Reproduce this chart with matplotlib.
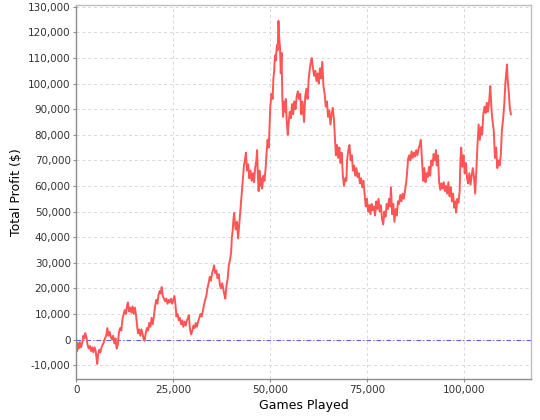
"""
Total profit over games played (JFreeChart-style line chart)
"""
import matplotlib
matplotlib.use('Agg')
import matplotlib.pyplot as plt
from matplotlib.ticker import FuncFormatter, MultipleLocator

plt.rcParams.update({
    'font.family': 'DejaVu Sans',
    'font.size': 8,
})

# games played (thousands) and total profit ($ thousands)
games_k = [
    0, 0.2, 0.4, 0.6, 0.9, 1.2, 1.5, 1.8, 2.1, 2.3, 2.6, 2.9, 3.2, 3.5, 3.8, 4.1, 4.4, 4.7, 5.0, 5.2,
    5.4, 5.6, 5.9, 6.2, 6.5, 6.8, 7.1, 7.4, 7.7, 8.0, 8.3, 8.6, 8.9, 9.2, 9.5, 9.8, 10.1, 10.4, 10.7, 11.0,
    11.3, 11.6, 11.9, 12.2, 12.5, 12.8, 13.1, 13.3, 13.6, 13.9, 14.2, 14.5, 14.8, 15.1, 15.4, 15.7, 15.9, 16.2, 16.5, 16.8,
    17.1, 17.4, 17.6, 17.9, 18.2, 18.5, 18.8, 19.1, 19.4, 19.7, 20.0, 20.3, 20.6, 20.9, 21.2, 21.5, 21.8, 22.0, 22.3, 22.6,
    22.9, 23.2, 23.5, 23.8, 24.1, 24.4, 24.7, 25.0, 25.3, 25.6, 25.8, 26.1, 26.4, 26.7, 27.0, 27.3, 27.6, 27.9, 28.2, 28.5,
    28.8, 29.0, 29.3, 29.6, 29.9, 30.2, 30.5, 30.8, 31.1, 31.4, 31.7, 32.0, 32.3, 32.6, 32.9, 33.2, 33.5, 33.8, 34.1, 34.4,
    34.7, 35.0, 35.3, 35.5, 35.8, 36.1, 36.4, 36.7, 37.0, 37.3, 37.6, 37.9, 38.1, 38.4, 38.7, 39.0, 39.3, 39.6, 39.9, 40.1,
    40.3, 40.5, 40.7, 40.9, 41.1, 41.4, 41.7, 42.0, 42.3, 42.6, 42.9, 43.2, 43.5, 43.7, 44.0, 44.3, 44.6, 44.9, 45.2, 45.5,
    45.8, 46.1, 46.4, 46.6, 46.8, 47.0, 47.2, 47.5, 47.7, 47.9, 48.2, 48.5, 48.8, 49.0, 49.3, 49.6, 49.8, 50.0, 50.3, 50.6,
    50.8, 51.0, 51.2, 51.4, 51.7, 51.9, 52.1, 52.3, 52.5, 52.7, 52.9, 53.1, 53.3, 53.5, 53.8, 54.0, 54.2, 54.5, 54.7, 55.0,
    55.3, 55.6, 55.9, 56.2, 56.5, 56.8, 57.1, 57.4, 57.7, 58.0, 58.3, 58.7, 59.0, 59.3, 59.6, 59.9, 60.2, 60.5, 60.7, 61.0,
    61.3, 61.6, 61.9, 62.2, 62.5, 62.8, 63.1, 63.4, 63.7, 64.0, 64.3, 64.6, 64.9, 65.2, 65.5, 65.8, 66.1, 66.4, 66.7, 66.9,
    67.2, 67.5, 67.8, 68.1, 68.4, 68.7, 69.0, 69.3, 69.6, 69.8, 70.1, 70.4, 70.7, 71.0, 71.3, 71.6, 71.9, 72.2, 72.5, 72.8,
    73.1, 73.4, 73.7, 74.0, 74.3, 74.6, 74.9, 75.2, 75.5, 75.8, 76.1, 76.4, 76.7, 77.0, 77.3, 77.6, 77.9, 78.2, 78.5, 78.8,
    79.1, 79.4, 79.7, 80.0, 80.3, 80.6, 80.9, 81.1, 81.4, 81.7, 82.0, 82.3, 82.6, 82.9, 83.2, 83.5, 83.8, 84.1, 84.4, 84.7,
    85.0, 85.3, 85.5, 85.8, 86.1, 86.4, 86.7, 87.0, 87.3, 87.6, 87.9, 88.2, 88.5, 88.8, 89.1, 89.4, 89.7, 90.0, 90.3, 90.6,
    90.9, 91.2, 91.5, 91.8, 92.1, 92.4, 92.7, 92.9, 93.2, 93.5, 93.8, 94.1, 94.4, 94.7, 95.0, 95.3, 95.6, 95.9, 96.2, 96.5,
    96.8, 97.1, 97.4, 97.7, 97.9, 98.2, 98.5, 98.8, 99.0, 99.2, 99.5, 99.8, 100.1, 100.4, 100.7, 101.0, 101.3, 101.6, 101.9, 102.2,
    102.5, 102.8, 103.1, 103.4, 103.7, 104.0, 104.3, 104.6, 104.9, 105.2, 105.5, 105.8, 106.1, 106.4, 106.7, 107.0, 107.3, 107.6, 107.9, 108.2,
    108.5, 108.8, 109.1, 109.4, 109.7, 110.0, 110.3, 110.6, 110.8, 111.0, 111.2, 111.5, 111.7, 112.0,
]
profit_k = [
    0, -4.5, -1.5, -3.5, -1, -3, -1.5, 1.5, 0.5, 2.5, 1, -2, -3.5, -2.5, -4.5, -3, -5, -3, -4.5, -7,
    -9.5, -6, -4, -5, -3, -2, -1, 0.5, 1.5, 4.5, 1.5, 3, 1, 0, 1.5, -1.5, 0.5, -3.5, -2, 3,
    4.5, 3.5, 8, 10, 11.5, 10, 13.5, 14.5, 11, 12.5, 10.5, 13, 10, 12.5, 9.5, 5, 2.5, 4, 1.5, 4,
    2, 0, -0.5, 2.5, 4.5, 3.5, 6.5, 5, 8.5, 6, 9, 13, 15.5, 14, 17.5, 19, 18, 20.5, 17, 16,
    15, 16, 14, 15.5, 14.5, 16, 14, 15.5, 17, 13, 9, 10, 7.5, 8.5, 6, 7.5, 5, 7, 5.5, 7.5,
    8.5, 9.5, 4, 2, 3.5, 5.5, 4.5, 6.5, 5, 7, 8.5, 10, 9, 11, 13.5, 15.5, 17, 20, 22, 24.5,
    23, 26, 27.5, 29, 26, 27, 24, 25.5, 21.5, 20, 22, 19.5, 18, 16, 21, 23.5, 29, 31, 34, 40,
    42.5, 47, 49.5, 45, 43, 46, 39.5, 45, 50, 56, 62, 68, 70.5, 73, 66, 68.5, 63, 66, 62, 65,
    61.5, 67, 70, 74, 64, 58, 66, 60, 63, 59, 64, 62, 67, 72, 78, 75, 83, 91, 96, 94,
    102, 105, 111, 109, 115, 113, 124.5, 118, 114, 104, 112, 95, 87, 93, 89, 94, 86, 80, 84, 89,
    86.5, 92, 88, 93, 90, 95, 97, 94, 96, 88, 93, 85, 95, 98, 94, 102, 106, 109, 110, 106,
    103, 105, 101, 104, 100, 106, 102, 108.5, 99, 96, 91, 93, 87, 89.5, 84, 88, 90.5, 86, 78, 72,
    76, 71, 75, 69, 73, 64, 60, 63, 62, 70, 74, 76, 70, 72, 66, 68, 64, 67, 63.5, 65,
    61, 63, 59.5, 62, 57, 52, 55, 50, 52.5, 49, 53, 50.5, 52, 48.5, 54, 51, 55, 50, 52.5, 47,
    45, 50, 48, 53, 51, 55, 52, 59.5, 49, 53, 46, 51, 48.5, 54, 53, 56.5, 54, 57, 55, 58,
    61, 66, 70.5, 72, 70, 73.5, 71, 73, 71.5, 74, 72, 74.5, 76, 78, 70, 62, 67, 61.5, 65, 63.5,
    67.5, 64, 70, 68, 72.5, 70, 74, 68, 72, 62, 58.5, 61, 59, 61.5, 58, 60, 57, 61.5, 56, 59.5,
    54, 57, 51.5, 54, 49.7, 55, 53.5, 58, 70, 75, 67.5, 72, 65, 69, 63, 61, 65, 60.5, 64, 67,
    63.5, 57, 66, 76, 84, 78, 83, 80, 88, 91, 88.5, 92.5, 89, 93, 99, 90, 85, 81.5, 71, 75,
    67, 70, 68, 72, 82, 86, 92, 100.5, 104, 107.5, 101, 96, 91, 88,
]

games = [g * 1000 for g in games_k]
profit = [p * 1000 for p in profit_k]

RED = '#FF5555'
BLUE = '#5B5BFF'
GRID = '#D8D8D8'
EDGE = '#8C8C8C'

fig = plt.figure(figsize=(5.4, 4.2), dpi=100)
ax = fig.add_axes([0.1413, 0.0976, 0.8426, 0.8905])

ax.axhline(0, color=BLUE, lw=0.8, ls=(0, (4, 2, 1, 2)), zorder=1)
ax.plot(games, profit, color=RED, lw=1.4, zorder=2)

ax.set_xlim(0, 117270)
ax.set_ylim(-15400, 130700)
ax.xaxis.set_major_locator(MultipleLocator(25000))
ax.yaxis.set_major_locator(MultipleLocator(10000))
fmt = FuncFormatter(lambda v, _: f'{int(round(v)):,}')
ax.xaxis.set_major_formatter(fmt)
ax.yaxis.set_major_formatter(fmt)

ax.grid(True, color=GRID, lw=0.7, ls=(0, (3, 3)), zorder=0)
ax.set_axisbelow(True)
for s in ax.spines.values():
    s.set_color(EDGE)
    s.set_linewidth(1.0)
ax.spines['top'].set_color('#BEBEBE')
ax.spines['right'].set_color('#BEBEBE')

ax.tick_params(axis='both', length=2, width=0.8, color=EDGE, labelsize=7.5,
               labelcolor='#333333', pad=2)
ax.set_xlabel('Games Played', fontsize=9, labelpad=3)
ax.set_ylabel('Total Profit ($)', fontsize=9, labelpad=4)

fig.savefig('out.png', dpi=100)
plt.close(fig)
